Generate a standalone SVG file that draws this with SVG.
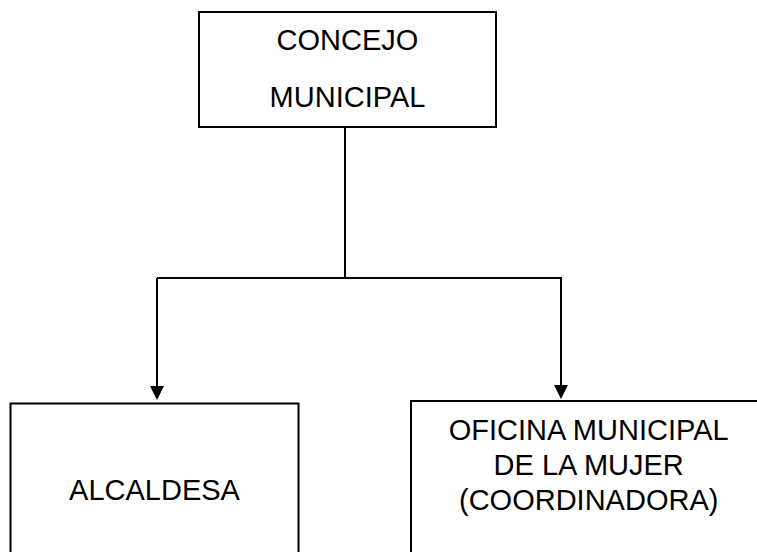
<svg xmlns="http://www.w3.org/2000/svg" width="757" height="552" viewBox="0 0 757 552">
<style>
.box{fill:#fff;stroke:#000;stroke-width:2}
.t{font-family:"Liberation Sans",Arial,sans-serif;font-size:29px;fill:#000;text-anchor:middle}
.c{fill:none;stroke:#000;stroke-width:2}
</style>
<defs>
<marker id="ah" markerWidth="14" markerHeight="14" refX="7" refY="14" orient="auto" markerUnits="userSpaceOnUse" viewBox="0 0 14 14">
<path d="M0,0 L14,0 L7,14 Z" fill="#000"/>
</marker>
</defs>
<rect width="757" height="552" fill="#fff"/>
<g id="connectors">
<line class="c" x1="345" y1="127" x2="345" y2="278"/>
<polyline class="c" points="157,278 562,278"/>
<line class="c" x1="157" y1="278" x2="157" y2="386"/>
<polygon points="150,386 164,386 157,400" fill="#000"/>
<line class="c" x1="561" y1="278" x2="561" y2="385"/>
<polygon points="554,385 568,385 561,399" fill="#000"/>
</g>
<g id="concejo">
<rect class="box" x="199" y="12" width="297" height="115"/>
<text class="t" x="347.5" y="50">CONCEJO</text>
<text class="t" x="347.5" y="107">MUNICIPAL</text>
</g>
<g id="alcaldesa">
<rect class="box" x="10.5" y="403.5" width="288" height="160"/>
<text class="t" x="154.5" y="500">ALCALDESA</text>
</g>
<g id="oficina">
<rect class="box" x="411" y="401" width="360" height="160"/>
<text class="t" x="588.7" y="440">OFICINA MUNICIPAL</text>
<text class="t" x="588.7" y="475">DE LA MUJER</text>
<text class="t" x="588.7" y="510">(COORDINADORA)</text>
</g>
</svg>
